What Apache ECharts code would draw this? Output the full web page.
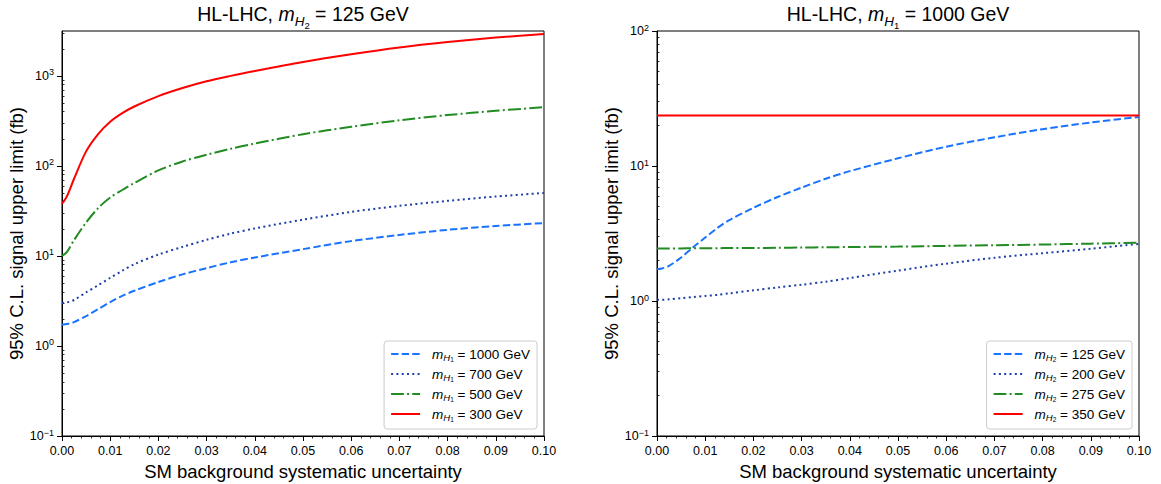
<!DOCTYPE html>
<html><head><meta charset="utf-8">
<script src="https://cdn.jsdelivr.net/npm/echarts@6/dist/echarts.min.js"></script>
<style>html,body{margin:0;padding:0;background:#fff}#c{width:1161px;height:484px}</style>
</head><body><div id="c"></div>
<script>
// ---------- data ----------
const xVals = [0, 0.001, 0.0025, 0.005, 0.0075, 0.01, 0.0125, 0.015, 0.02, 0.025, 0.03, 0.035, 0.04, 0.05, 0.06, 0.07, 0.08, 0.09, 0.1];

// Left panel: m_H2 = 125 GeV
const leftNames = ['mH1 = 1000 GeV', 'mH1 = 700 GeV', 'mH1 = 500 GeV', 'mH1 = 300 GeV'];
const left_mH1_1000 = [1.72, 1.75, 1.84, 2.15, 2.57, 3.07, 3.6, 4.1, 5.14, 6.24, 7.33, 8.5, 9.6, 11.9, 14.6, 17.1, 19.5, 21.5, 23.2];
const left_mH1_700  = [3.0, 3.04, 3.24, 3.94, 4.73, 5.71, 6.85, 8.11, 10.35, 12.6, 15.1, 17.7, 20.2, 25.3, 30.8, 36.0, 40.9, 45.7, 50.0];
const left_mH1_500  = [10.0, 11.0, 15.0, 23.5, 34.0, 44.5, 54.0, 64.6, 89, 112, 133, 155, 177, 225, 272, 321, 367, 409, 449];
const left_mH1_300  = [38, 45.7, 72, 145, 226, 309, 385, 457, 596, 733, 871, 1000, 1135, 1429, 1738, 2065, 2371, 2661, 2917];

// Right panel: m_H1 = 1000 GeV
const rightNames = ['mH2 = 125 GeV', 'mH2 = 200 GeV', 'mH2 = 275 GeV', 'mH2 = 350 GeV'];
const right_mH2_125 = [1.72, 1.74, 1.82, 2.1, 2.5, 2.95, 3.47, 3.98, 4.9, 5.89, 6.92, 8.04, 9.16, 11.4, 13.9, 16.3, 18.75, 21.0, 23.1];
const right_mH2_200 = [1.02, 1.02, 1.03, 1.05, 1.07, 1.09, 1.11, 1.14, 1.2, 1.26, 1.32, 1.39, 1.48, 1.68, 1.89, 2.09, 2.26, 2.44, 2.65];
const right_mH2_275 = [2.45, 2.45, 2.45, 2.45, 2.46, 2.46, 2.46, 2.47, 2.47, 2.48, 2.49, 2.5, 2.51, 2.53, 2.56, 2.59, 2.62, 2.66, 2.7];
const right_mH2_350 = [23.7, 23.7, 23.7, 23.7, 23.7, 23.7, 23.7, 23.7, 23.7, 23.7, 23.7, 23.7, 23.7, 23.7, 23.7, 23.7, 23.7, 23.7, 23.7];

// axis ticks
const xTickInterval = 0.01;
const leftYMajor = [0.1, 1, 10, 100, 1000];
const rightYMajor = [0.1, 1, 10, 100];
const leftYMax = 3150;
const rightYMax = 100;
const xLabel = 'SM background systematic uncertainty';
const yLabel = '95% C.L. signal upper limit (fb)';

// ---------- styling ----------
const FF = "'Liberation Sans', Arial, Helvetica, sans-serif";
const styles = [
  {color: '#1a73ff', type: [7.4, 3.2]},
  {color: '#1c3fa8', type: [2, 3.3]},
  {color: '#228b22', type: [12.8, 3.2, 2, 3.2]},
  {color: '#ff0000', type: 'solid'}
];

function minorTicks(max) {
  const out = [];
  for (let e = -1; e <= 3; e++) {
    for (let k = 2; k <= 9; k++) {
      const v = k * Math.pow(10, e);
      if (v < max) out.push(+v.toPrecision(3));
    }
  }
  return out;
}

function pairs(ys) { return xVals.map((x, i) => [x, ys[i]]); }

const grids = [
  {left: 62, right: 617, top: 31, bottom: 48},
  {left: 657, right: 22, top: 31, bottom: 48}
];

function xAxisFor(i) {
  return {
    type: 'value', gridIndex: i, min: 0, max: 0.1, interval: xTickInterval,
    axisLine: {show: true, onZero: false, lineStyle: {color: '#000', width: 1}},
    axisTick: {show: true, inside: false, length: 5, lineStyle: {color: '#000', width: 1}},
    minorTick: {show: true, splitNumber: 5, length: 2.5, lineStyle: {color: '#000', width: 0.8}},
    splitLine: {show: false}, minorSplitLine: {show: false},
    axisLabel: {formatter: v => v.toFixed(2), fontSize: 12.5, color: '#000', margin: 8, fontFamily: FF,
                showMinLabel: true, showMaxLabel: true},
    name: xLabel, nameLocation: 'middle', nameGap: 22,
    nameTextStyle: {fontSize: 18.5, color: '#000', fontFamily: FF}
  };
}

const supRich = {
  b: {fontSize: 12.5, color: '#000', fontFamily: FF},
  s: {fontSize: 9, color: '#000', fontFamily: FF, padding: [0, 0, 7, 0]}
};
function logFmt(v) {
  const e = Math.round(Math.log10(v));
  if (Math.abs(Math.log10(v) - e) > 1e-6) return '';
  return '{b|10}{s|' + (e < 0 ? '\u2212' + (-e) : e) + '}';
}

function yAxesFor(i, max, majors) {
  return [{
    type: 'log', logBase: 10, gridIndex: i, min: 0.1, max: max,
    axisLine: {show: true, onZero: false, lineStyle: {color: '#000', width: 1}},
    axisTick: {show: true, length: 5, customValues: majors, lineStyle: {color: '#000', width: 1}},
    axisLabel: {customValues: majors, formatter: logFmt, rich: supRich, margin: 8, color: '#000'},
    splitLine: {show: false},
    name: yLabel, nameLocation: 'middle', nameGap: 32,
    nameTextStyle: {fontSize: 18.5, color: '#000', fontFamily: FF}
  }, {
    type: 'log', logBase: 10, gridIndex: i, min: 0.1, max: max,
    axisLine: {show: false},
    axisTick: {show: true, length: 2.5, customValues: minorTicks(max), lineStyle: {color: '#000', width: 0.8}},
    axisLabel: {show: false},
    splitLine: {show: false}
  }];
}

function mkSeries(name, ys, st, gi) {
  return {
    name: name, type: 'line', xAxisIndex: gi, yAxisIndex: gi * 2,
    data: pairs(ys), symbol: 'none', showSymbol: false, smooth: 0.3,
    lineStyle: {color: st.color, width: 2, type: st.type, cap: 'butt'},
    itemStyle: {color: st.color}, z: 3
  };
}

const legRich = {
  m: {fontSize: 13.5, fontStyle: 'italic', color: '#000', fontFamily: FF},
  h: {fontSize: 9.5, fontStyle: 'italic', color: '#000', fontFamily: FF, padding: [7, 0, 0, 0]},
  n: {fontSize: 6.5, color: '#000', fontFamily: FF, padding: [11, 0, 0, 0]},
  t: {fontSize: 13.5, color: '#000', fontFamily: FF}
};
function legFmt(name) {
  return name.replace(/^m(H)(\d)(.*)$/, '{m|m}{h|H}{n|$2}{t|$3}');
}
function mkLegend(names, right) {
  return {
    data: names, orient: 'vertical', right: right, bottom: 55,
    itemWidth: 29, itemHeight: 14, itemGap: 4, padding: [6, 7, 6, 6],
    backgroundColor: 'rgba(255,255,255,0.85)', borderColor: '#cccccc', borderWidth: 1, borderRadius: 3,
    itemStyle: {color: 'rgba(0,0,0,0)', borderColor: 'rgba(0,0,0,0)', borderWidth: 0, opacity: 0},
    formatter: legFmt, textStyle: {rich: legRich, padding: [0, 0, 0, 7], fontFamily: FF},
    selectedMode: false
  };
}

const titleRich = {
  t: {fontSize: 19.5, fill: '#000', fontFamily: FF},
  m: {fontSize: 19.5, fontStyle: 'italic', fill: '#000', fontFamily: FF},
  h: {fontSize: 13.5, fontStyle: 'italic', fill: '#000', fontFamily: FF, padding: [15, 0, 0, 0]},
  n: {fontSize: 9.5, fill: '#000', fontFamily: FF, padding: [23, 0, 0, 0]}
};

const option = {
  animation: false,
  backgroundColor: '#fff',
  grid: grids.map(g => Object.assign({show: true, borderColor: '#000', borderWidth: 1, backgroundColor: 'transparent', containLabel: false, outerBoundsMode: 'none'}, g)),
  xAxis: [xAxisFor(0), xAxisFor(1)],
  yAxis: [].concat(yAxesFor(0, leftYMax, leftYMajor), yAxesFor(1, rightYMax, rightYMajor)),
  legend: [mkLegend(leftNames, 624), mkLegend(rightNames, 29)],
  graphic: [
    {type: 'text', x: 303, y: 14, style: {text: '{t|HL-LHC, }{m|m}{h|H}{n|2}{t| = 125 GeV}', rich: titleRich, align: 'center', verticalAlign: 'middle'}},
    {type: 'text', x: 898, y: 14, style: {text: '{t|HL-LHC, }{m|m}{h|H}{n|1}{t| = 1000 GeV}', rich: titleRich, align: 'center', verticalAlign: 'middle'}}
  ],
  series: [
    mkSeries(leftNames[0], left_mH1_1000, styles[0], 0),
    mkSeries(leftNames[1], left_mH1_700, styles[1], 0),
    mkSeries(leftNames[2], left_mH1_500, styles[2], 0),
    mkSeries(leftNames[3], left_mH1_300, styles[3], 0),
    mkSeries(rightNames[0], right_mH2_125, styles[0], 1),
    mkSeries(rightNames[1], right_mH2_200, styles[1], 1),
    mkSeries(rightNames[2], right_mH2_275, styles[2], 1),
    mkSeries(rightNames[3], right_mH2_350, styles[3], 1)
  ]
};

const chart = echarts.init(document.getElementById('c'), null, {renderer: 'svg'});
chart.setOption(option);
</script>
</body></html>
